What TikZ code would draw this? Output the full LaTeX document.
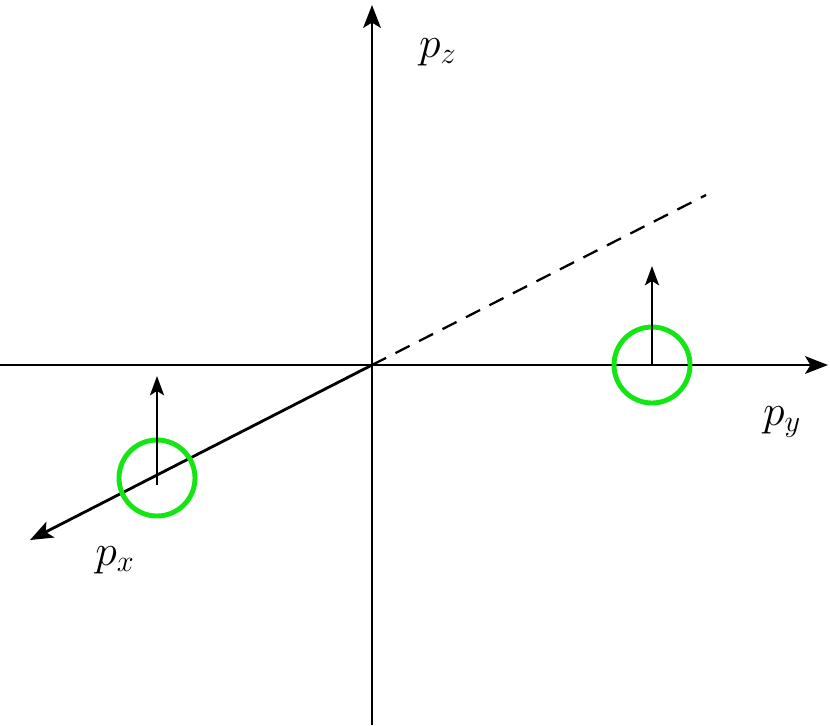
\documentclass[tikz,border=0pt]{standalone}
\usetikzlibrary{arrows.meta}
\begin{document}
\begin{tikzpicture}[x=0.02cm,y=-0.02cm,
    axis line/.style={line width=1.6pt, -{Stealth[length=13pt,width=10pt,inset=3pt]}},
    spin arrow/.style={line width=1.4pt, -{Stealth[length=11pt,width=8pt,inset=2.5pt]}},
    ring/.style={line width=2.8pt, draw={rgb,255:red,20;green,230;blue,20}},
    axis label/.style={font=\fontsize{26}{30}\selectfont},
]
    % frame
    \useasboundingbox (0,0) rectangle (830,725);

    % points
    \coordinate (O) at (372,365);
    \coordinate (zbot) at (372,725);
    \coordinate (ztop) at (372,5);
    \coordinate (yleft) at (0,365);
    \coordinate (yright) at (828,365);
    \coordinate (xtip) at (30,540);
    \coordinate (xback) at (706,195);
    \coordinate (c1) at (652,365);
    \coordinate (c1top) at (652,266);
    \coordinate (c2) at (157,485);
    \coordinate (c2top) at (157,376);

    % axes
    \draw[axis line] (zbot) -- (ztop);
    \draw[axis line] (yleft) -- (yright);
    \draw[axis line] (O) -- (xtip);
    \draw[line width=1.3pt, dashed, dash pattern=on 9pt off 6pt] (O) -- (xback);

    % rings and arrows
    \draw[ring] (c1) circle (38);
    \draw[ring] (652,365) ++(0,0) coordinate (tmp);
    \draw[ring] (157,478) circle (38);
    \draw[spin arrow] (c1) -- (c1top);
    \draw[spin arrow] (c2) -- (c2top);

    % labels
    \node[axis label] (lz) at (438,52) {$p_z$};
    \node[axis label] (ly) at (782,422) {$p_y$};
    \node[axis label] (lx) at (115,560) {$p_x$};
\end{tikzpicture}
\end{document}
